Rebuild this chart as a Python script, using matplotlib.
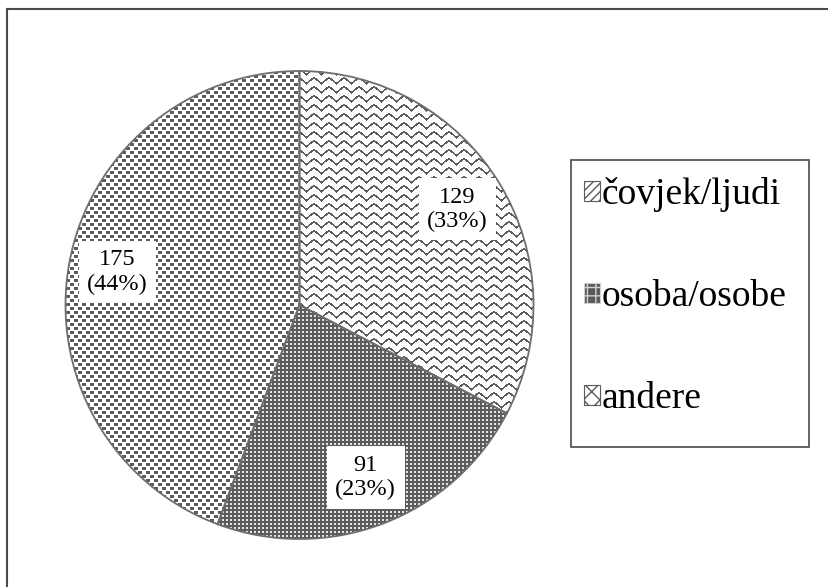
import numpy as np
import matplotlib
matplotlib.use("Agg")
import matplotlib.pyplot as plt
from matplotlib.patches import Patch, Rectangle
from matplotlib.lines import Line2D

categories = ["čovjek/ljudi", "osoba/osobe", "andere"]
counts = [129, 91, 175]

W, H = 829, 587
plt.rcParams['font.family'] = ['Liberation Serif', 'DejaVu Serif']
plt.rcParams['hatch.linewidth'] = 1.0

fig = plt.figure(figsize=(W / 100, H / 100), dpi=100)
fig.patch.set_facecolor('white')

def fx(x):
    return x / W

def fy(y):
    return 1 - y / H

# outer frame (cropped at right/bottom)
fig.add_artist(Line2D([fx(7), fx(7)], [fy(9), fy(587)], color='#4a4a4a', lw=1.5, transform=fig.transFigure))
fig.add_artist(Line2D([fx(7), fx(829)], [fy(9), fy(9)], color='#4a4a4a', lw=1.5, transform=fig.transFigure))

# pie axes
cx, cy, r = 299.5, 305, 234
ax = fig.add_axes([fx(cx - r), fy(cy + r), 2 * r / W, 2 * r / H])
ax.set_axis_off()

G = 0.36
n = int(2 * r)
yy, xx = np.mgrid[0:n, 0:n]

# pattern 1: wavy lines
P, A, S = 15, 3.0, 9
tri = A * (np.abs(((xx % P) / P) * 2 - 1) * 2 - 1)
d = np.abs(((yy - tri) % S))
d = np.minimum(d, S - d)
pat1 = np.where(d < 1.1, G, 1.0)

# pattern 2: dark with white dots
pat2 = np.full((n, n), G)
pat2[(xx % 4 < 2) & (yy % 4 < 2)] = 0.9

# pattern 3: small squares confetti
pat3 = np.ones((n, n))
m1 = (xx % 8 < 4) & (yy % 8 < 3)
m2 = ((xx + 4) % 8 < 4) & ((yy + 4) % 8 < 3)
pat3[m1 | m2] = G

patterns = [pat1, pat2, pat3]

total = sum(counts)

def fmt(p):
    return f"{int(round(p * total / 100))}\n({p:.0f}%)"

wedges, texts, autotexts = ax.pie(
    counts, startangle=90, counterclock=False, radius=1,
    autopct=fmt, pctdistance=0.79,
    wedgeprops=dict(facecolor='none', edgecolor='#6e6e6e', linewidth=1.3, zorder=3),
    textprops=dict(fontsize=17.5, color='black', linespacing=1.2, zorder=5),
)
for w, pat in zip(wedges, patterns):
    im = ax.imshow(pat, extent=(-1, 1, -1, 1), cmap='gray', vmin=0, vmax=1,
                   interpolation='nearest', zorder=1)
    im.set_clip_path(w)
for t in autotexts:
    t.set_bbox(dict(facecolor='white', edgecolor='none', boxstyle='square,pad=0.35'))
ax.set_xlim(-1, 1)
ax.set_ylim(-1, 1)

# legend frame
lx0, ly0, lx1, ly1 = 571, 160, 809, 447
fig.add_artist(Rectangle((fx(lx0), fy(ly1)), (lx1 - lx0) / W, (ly1 - ly0) / H,
                         transform=fig.transFigure, facecolor='white',
                         edgecolor='#4a4a4a', linewidth=1.2))
handles = [
    Patch(facecolor='white', edgecolor='#5a5a5a', hatch='////', linewidth=0.8),
    Patch(facecolor='#5a5a5a', edgecolor='#d0d0d0', hatch='++', linewidth=0.8),
    Patch(facecolor='white', edgecolor='#5a5a5a', hatch='xx', linewidth=0.8),
]
leg = fig.legend(handles, categories, loc='center left',
                 bbox_to_anchor=(fx(584), fy(297)),
                 frameon=False, fontsize=27, handlelength=0.42, handleheight=0.42,
                 handletextpad=0.06, labelspacing=1.8, borderpad=0, borderaxespad=0)

fig.savefig("out.png", dpi=100, facecolor='white')
